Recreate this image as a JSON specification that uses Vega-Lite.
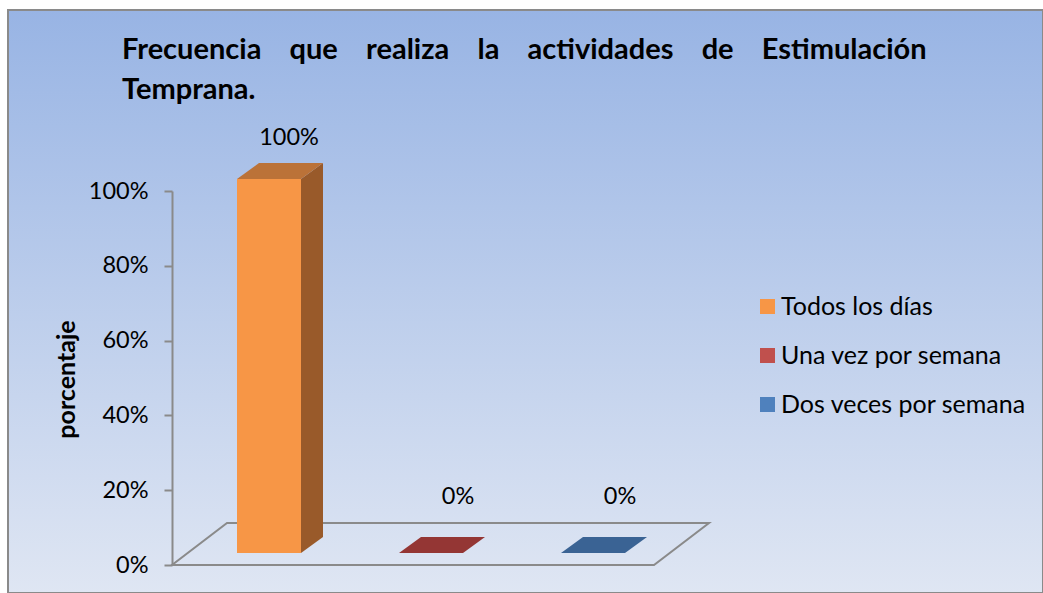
{
  "$schema": "https://vega.github.io/schema/vega-lite/v6.json",
  "width": 1035,
  "height": 583,
  "autosize": {"type": "none"},
  "padding": {"left": 8, "top": 10, "right": 0, "bottom": 0},
  "background": "#ffffff",
  "title": {
    "text": ["Frecuencia\u00a0\u00a0\u00a0\u00a0que\u00a0\u00a0\u00a0\u00a0realiza\u00a0\u00a0\u00a0\u00a0la\u00a0\u00a0\u00a0\u00a0actividades\u00a0\u00a0\u00a0\u00a0de\u00a0\u00a0\u00a0\u00a0Estimulación", "Temprana."],
    "anchor": "start",
    "frame": "group",
    "orient": "top",
    "offset": 0,
    "dx": 114,
    "dy": 118,
    "baseline": "alphabetic",
    "align": "left",
    "font": "Lato",
    "fontSize": 29,
    "fontWeight": "bold",
    "color": "#000000",
    "lineHeight": 40,
    "limit": 1000
  },
  "data": {
    "values": [
      {"cat": "Todos los días", "value": 1},
      {"cat": "Una vez por semana", "value": 0},
      {"cat": "Dos veces por semana", "value": 0}
    ]
  },
  "encoding": {
    "x": {
      "field": "cat",
      "type": "nominal",
      "sort": null,
      "scale": {"range": [164, 650], "paddingInner": 0, "paddingOuter": 0},
      "axis": null
    },
    "y": {
      "field": "value",
      "type": "quantitative",
      "scale": {"domain": [0, 1], "range": [555, 181], "nice": false, "zero": true},
      "axis": {
        "values": [0, 0.2, 0.4, 0.6, 0.8, 1],
        "format": ".0%",
        "offset": -164,
        "grid": false,
        "domainColor": "#8a8a8a",
        "domainWidth": 2,
        "tickColor": "#8a8a8a",
        "tickWidth": 2,
        "tickSize": 8,
        "labelFont": "Lato",
        "labelFontSize": 23.5,
        "labelColor": "#000000",
        "labelPadding": 16,
        "title": "porcentaje",
        "titleFont": "Lato",
        "titleFontSize": 25,
        "titleFontWeight": "bold",
        "titleColor": "#000000",
        "titleX": -106,
        "titleY": 369,
        "titleAngle": -90,
        "titleAlign": "center",
        "titleBaseline": "middle"
      }
    }
  },
  "layer": [
    {
      "transform": [{"filter": "datum.cat === 'Todos los días'"}],
      "mark": {"type": "point", "shape": "M-81,0L401,0L456,-42L-26,-42Z", "size": 4, "filled": false, "stroke": "#8a8a8a", "strokeWidth": 2, "opacity": 1},
      "encoding": {"y": {"datum": 0, "type": "quantitative"}}
    },
    {
      "transform": [{"filter": "datum.value > 0"}],
      "mark": {"type": "bar", "width": 64, "xOffset": 16, "yOffset": -12, "y2Offset": -12},
      "encoding": {
        "y2": {"datum": 0},
        "color": {
          "field": "cat",
          "type": "nominal",
          "scale": {"domain": ["Todos los días", "Una vez por semana", "Dos veces por semana"], "range": ["#f79646", "#c0504d", "#4f81bd"]},
          "legend": {
            "orient": "none",
            "legendX": 747,
            "legendY": 284,
            "title": null,
            "padding": 0,
            "symbolType": "square",
            "symbolSize": 225,
            "symbolStrokeWidth": 0,
            "labelFont": "Lato",
            "labelFontSize": 25,
            "labelColor": "#000000",
            "labelOffset": 1,
            "rowPadding": 23,
            "labelLimit": 400
          }
        }
      }
    },
    {
      "transform": [{"filter": "datum.value > 0"}],
      "mark": {"type": "bar", "width": 22, "xOffset": 59, "yOffset": -12, "y2Offset": -28, "color": "#995a2a"},
      "encoding": {"y2": {"datum": 0}}
    },
    {
      "transform": [{"filter": "datum.value > 0"}],
      "mark": {"type": "point", "shape": "M48,-12L70,-28L70,-11L48,-11Z", "size": 4, "filled": true, "strokeWidth": 0, "opacity": 1, "color": "#995a2a"}
    },
    {
      "transform": [{"filter": "datum.value > 0"}],
      "mark": {"type": "point", "shape": "M48,-29L70,-29L70,-28L48,-12Z", "size": 4, "filled": true, "strokeWidth": 0, "opacity": 1, "color": "#995a2a"},
      "encoding": {"y": {"datum": 0, "type": "quantitative"}}
    },
    {
      "mark": {"type": "point", "shape": "M-16,-12L48,-12L70,-28L6,-28Z", "size": 4, "filled": true, "strokeWidth": 0, "opacity": 1},
      "encoding": {
        "fill": {
          "field": "cat",
          "type": "nominal",
          "scale": {"domain": ["Todos los días", "Una vez por semana", "Dos veces por semana"], "range": ["#bb7238", "#943634", "#3a6394"]},
          "legend": null
        }
      }
    },
    {
      "transform": [{"filter": "datum.value > 0"}],
      "mark": {"type": "text", "xOffset": 36, "yOffset": -53, "font": "Lato", "fontSize": 23.5, "color": "#000000", "align": "center", "baseline": "middle"},
      "encoding": {"text": {"field": "value", "type": "quantitative", "format": ".0%"}}
    },
    {
      "transform": [{"filter": "datum.value === 0"}],
      "mark": {"type": "text", "xOffset": 43, "yOffset": -68, "font": "Lato", "fontSize": 23.5, "color": "#000000", "align": "center", "baseline": "middle"},
      "encoding": {"text": {"field": "value", "type": "quantitative", "format": ".0%"}}
    }
  ],
  "config": {
    "view": {
      "stroke": "#8a8a8a",
      "strokeWidth": 2,
      "fill": {
        "gradient": "linear",
        "x1": 0, "y1": 0, "x2": 0, "y2": 1,
        "stops": [
          {"offset": 0, "color": "#98b4e4"},
          {"offset": 1, "color": "#dfe6f3"}
        ]
      }
    }
  }
}
